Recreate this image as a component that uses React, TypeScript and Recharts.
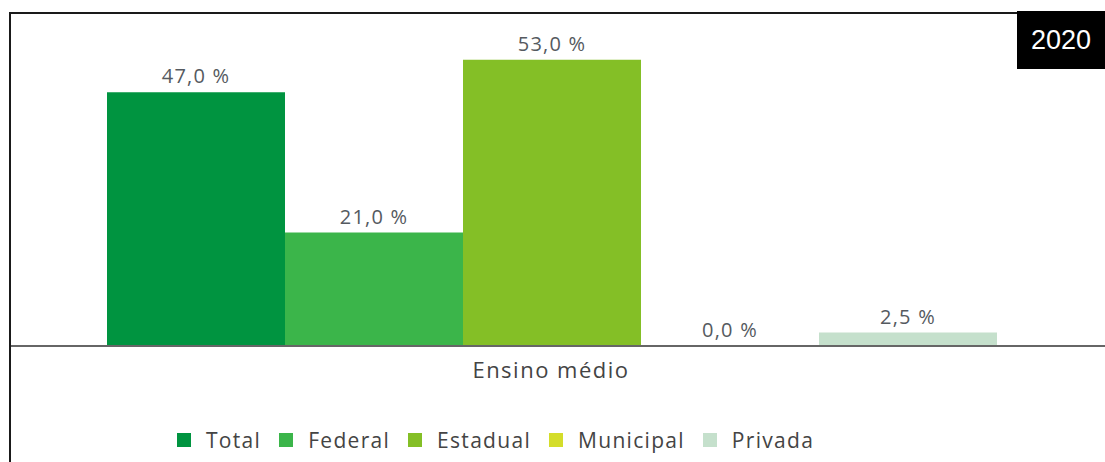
import React from "react";
import { BarChart, Bar, XAxis, YAxis, Legend, LabelList } from "recharts";

// Share per administrative network, secondary education
const categories = ["Ensino médio"];
const seriesNames = ["Total", "Federal", "Estadual", "Municipal", "Privada"];
const seriesKeys = ["total", "federal", "estadual", "municipal", "privada"];
const seriesValues = [47.0, 21.0, 53.0, 0.0, 2.5];
const seriesColors = ["#009440", "#3bb54a", "#84bf26", "#d4dd2a", "#c5e0cc"];
const yearLabel = "2020";

const data = categories.map((name) => {
  const row: Record<string, string | number> = { name };
  seriesKeys.forEach((k, i) => {
    row[k] = seriesValues[i];
  });
  return row;
});

const FONT = "'Open Sans', 'Noto Sans', sans-serif";

const fmt = (v: any) => `${Number(v).toFixed(1).replace(".", ",")} %`;

const LegendContent = () => (
  <div style={{ display: "flex", justifyContent: "flex-start", alignItems: "center", paddingLeft: 177, fontFamily: FONT, fontSize: 21, color: "#444" }}>
    {seriesNames.map((n, i) => (
      <div key={n} style={{ display: "flex", alignItems: "center", marginRight: i < seriesNames.length - 1 ? 18 : 0 }}>
        <span style={{ display: "inline-block", width: 14, height: 14, background: seriesColors[i], marginRight: 15 }} />
        <span style={{ letterSpacing: 1.3 }}>{n}</span>
      </div>
    ))}
  </div>
);

const App: React.FC = () => {
  return (
    <div style={{ position: "fixed", left: 0, top: 0, width: 1105, height: 462, background: "#fff", overflow: "hidden" }}>
      <div style={{ position: "absolute", left: 9, top: 12, width: 1110, height: 480, border: "2px solid #1a1a1a" }} />
      <div style={{ position: "absolute", left: 0, top: 0 }}>
        <BarChart
          width={1105}
          height={462}
          data={data}
          margin={{ top: 22, right: 0, left: 11, bottom: 48 }}
          barCategoryGap={96}
          barGap={0}
        >
          <YAxis hide domain={[0, 60]} />
          <XAxis
            dataKey="name"
            height={40}
            padding={{ left: 0, right: 14 }}
            axisLine={{ stroke: "#666", strokeWidth: 2 }}
            tickLine={false}
            tick={{ fontFamily: FONT, fontSize: 22, fill: "#444", letterSpacing: 1.5 }}
            dy={8}
          />
          <Legend
            content={<LegendContent />}
            wrapperStyle={{ top: 426, bottom: "auto", left: 0, width: 1105 }}
          />
          {seriesKeys.map((k, i) => (
            <Bar
              key={k}
              dataKey={k}
              name={seriesNames[i]}
              fill={seriesColors[i]}
              minPointSize={0.01}
              isAnimationActive={false}
            >
              <LabelList
                dataKey={k}
                position="top"
                offset={9}
                formatter={fmt}
                style={{ fontFamily: FONT, fontSize: 20, fill: "#555a60", letterSpacing: 1.2 }}
              />
            </Bar>
          ))}
        </BarChart>
      </div>
      <div
        style={{
          position: "absolute",
          left: 1017,
          top: 11,
          width: 88,
          height: 58,
          background: "#000",
          color: "#fff",
          fontFamily: "'Liberation Sans', Arial, sans-serif",
          fontSize: 27,
          display: "flex",
          alignItems: "center",
          justifyContent: "center",
        }}
      >
        {yearLabel}
      </div>
    </div>
  );
};

export default App;
